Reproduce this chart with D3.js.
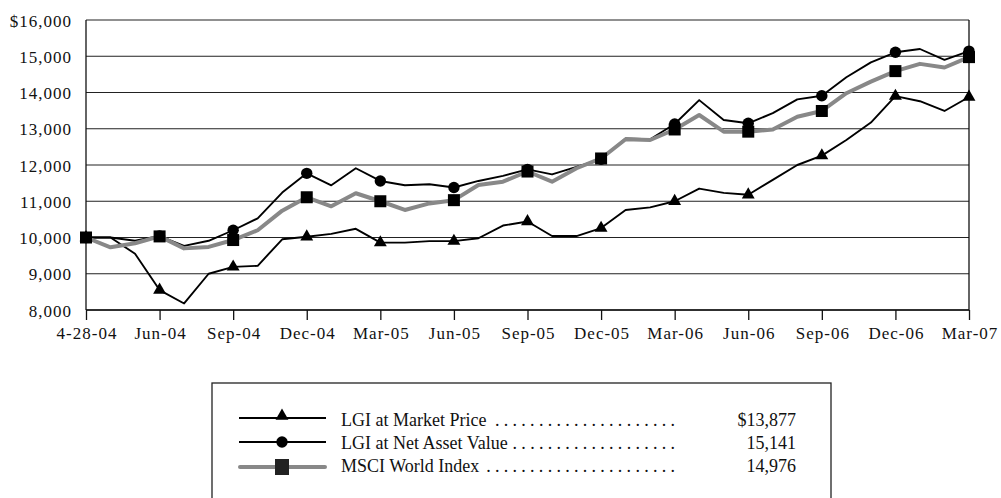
<!DOCTYPE html>
<html><head><meta charset="utf-8">
<script src="https://cdn.jsdelivr.net/npm/d3@7"></script>
<style>body{margin:0;background:#fff}svg{display:block}svg text{font-family:'Liberation Serif',Tinos,'Times New Roman',Times,'DejaVu Serif',serif !important;fill:#111}</style>
</head><body><svg id="c" width="1001" height="498"></svg>
<script>
const tickLabels = ["4-28-04","Jun-04","Sep-04","Dec-04","Mar-05","Jun-05","Sep-05","Dec-05","Mar-06","Jun-06","Sep-06","Dec-06","Mar-07"];
const marketPrice = [10000,10000,9550,8550,8180,9000,9190,9220,9950,10020,10100,10240,9860,9860,9900,9900,9980,10330,10440,10040,10040,10260,10760,10830,11000,11350,11230,11180,11590,12000,12260,12690,13170,13900,13760,13490,13877];
const netAssetValue = [10000,10000,9910,10040,9770,9910,10200,10530,11240,11770,11440,11910,11560,11440,11470,11380,11560,11700,11880,11740,11950,12160,12730,12710,13130,13790,13240,13150,13430,13810,13910,14420,14830,15110,15200,14900,15141];
const msciWorld = [10000,9730,9840,10030,9700,9740,9930,10200,10740,11110,10860,11220,11000,10760,10940,11030,11450,11540,11820,11540,11910,12180,12710,12690,12980,13380,12920,12920,12980,13330,13490,13980,14300,14590,14790,14690,14976];
const yTicks = [8000,9000,10000,11000,12000,13000,14000,15000,16000];
const legendNames = ["LGI at Market Price","LGI at Net Asset Value","MSCI World Index"];
const legendValues = ["$13,877","15,141","14,976"];

const svg = d3.select("#c");
const L=86,R=969,T=20,B=310;
const x = d3.scaleLinear().domain([0,36]).range([L,R]);
const y = d3.scaleLinear().domain([8000,16000]).range([B,T]);
const FS = 18, AFS = 17;
const FF = "'Liberation Serif',Tinos,'Times New Roman',serif";

svg.append("g").selectAll("line").data(yTicks).join("line")
  .attr("x1",L).attr("x2",R).attr("y1",d=>y(d)).attr("y2",d=>y(d))
  .attr("stroke","#222").attr("stroke-width",1.2);
svg.append("line").attr("x1",L).attr("x2",L).attr("y1",T).attr("y2",B).attr("stroke","#111").attr("stroke-width",1.3);
svg.append("line").attr("x1",R).attr("x2",R).attr("y1",T).attr("y2",B).attr("stroke","#111").attr("stroke-width",1.3);

svg.append("g").selectAll("text").data(yTicks).join("text")
  .attr("x",72).attr("y",d=>y(d)).attr("dy","0.39em").attr("text-anchor","end")
  .attr("font-family",FF).attr("font-size",AFS).attr("letter-spacing",1)
  .text(d=>(d===16000?"$":"")+d3.format(",")(d));

const xAxis = d3.axisBottom(x).tickValues(d3.range(0,37,3)).tickSize(10).tickPadding(7)
  .tickFormat((d,i)=>tickLabels[i]);
const gx = svg.append("g").attr("transform",`translate(0,${B})`).call(xAxis)
  .attr("font-family",FF).attr("font-size",AFS);
gx.select(".domain").attr("stroke","#111").attr("stroke-width",1.3).attr("d",`M${L},0H${R}`);
gx.selectAll(".tick line").attr("stroke","#111").attr("stroke-width",1.3);
gx.selectAll(".tick text").attr("fill","#111").attr("letter-spacing",1).attr("dx",0.5);

const line = d3.line().x((d,i)=>x(i)).y(d=>y(d));
svg.append("path").datum(marketPrice).attr("d",line).attr("fill","none").attr("stroke","#000").attr("stroke-width",1.9).attr("stroke-linejoin","round");
svg.append("path").datum(netAssetValue).attr("d",line).attr("fill","none").attr("stroke","#000").attr("stroke-width",1.9).attr("stroke-linejoin","round");
svg.append("path").datum(msciWorld).attr("d",line).attr("fill","none").attr("stroke","#888").attr("stroke-width",4).attr("stroke-linejoin","round");

const idx = d3.range(0,37,3);
const tri = d3.symbol().type(d3.symbolTriangle).size(72);
svg.append("g").selectAll("path").data(idx).join("path")
  .attr("d",tri).attr("transform",i=>`translate(${x(i)},${y(marketPrice[i])})`).attr("fill","#000");
svg.append("g").selectAll("circle").data(idx).join("circle")
  .attr("cx",i=>x(i)).attr("cy",i=>y(netAssetValue[i])).attr("r",5.7).attr("fill","#000");
svg.append("g").selectAll("rect").data(idx).join("rect")
  .attr("x",i=>x(i)-6).attr("y",i=>y(msciWorld[i])-6).attr("width",12).attr("height",12).attr("fill","#000");

svg.append("rect").attr("x",212).attr("y",383).attr("width",619).attr("height",140)
  .attr("fill","none").attr("stroke","#222").attr("stroke-width",1.3);
const rowsY = [418,442,467];
const baseY = [425.5,449,472];
const lg = svg.append("g").attr("font-family",FF).attr("font-size",FS);
rowsY.forEach((ry,k)=>{
  if(k<2){
    lg.append("line").attr("x1",239).attr("x2",326).attr("y1",ry).attr("y2",ry).attr("stroke","#000").attr("stroke-width",1.8);
  } else {
    lg.append("line").attr("x1",240).attr("x2",325).attr("y1",ry).attr("y2",ry).attr("stroke","#888").attr("stroke-width",4).attr("stroke-linecap","round");
  }
  if(k===0) lg.append("path").attr("d",tri).attr("transform",`translate(282,${ry-2})`).attr("fill","#000");
  if(k===1) lg.append("circle").attr("cx",282).attr("cy",ry).attr("r",5.7).attr("fill","#000");
  if(k===2) lg.append("rect").attr("x",275).attr("y",ry-8).attr("width",14).attr("height",16).attr("fill","#222");
  const by = baseY[k];
  const t = lg.append("text").attr("x",341).attr("y",by).text(legendNames[k]);
  const w = t.node().getComputedTextLength();
  const start = 341 + w + 6, end = 673;
  const n = Math.floor((end-start)/8.8)+1;
  const s = end - (n-1)*8.8;
  lg.append("text").attr("x",s-2).attr("y",by)
    .attr("textLength",(n-1)*8.8+4).attr("lengthAdjust","spacing")
    .text(Array(n).fill(".").join(" "));
  lg.append("text").attr("x",796).attr("y",by).attr("text-anchor","end").text(legendValues[k]);
});
</script></body></html>
